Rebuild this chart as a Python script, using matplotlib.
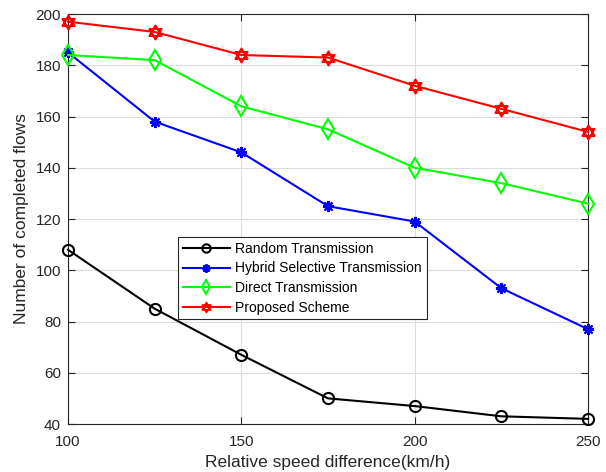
import matplotlib
matplotlib.use("Agg")
import matplotlib.pyplot as plt
from matplotlib.lines import Line2D
from matplotlib.path import Path
import numpy as np

plt.rcParams['font.family'] = ['Liberation Sans', 'DejaVu Sans']

speed = [100, 125, 150, 175, 200, 225, 250]
random_tx = [108, 85, 67, 50, 47, 43, 42]
hybrid_tx = [185, 158, 146, 125, 119, 93, 77]
direct_tx = [184, 182, 164, 155, 140, 134, 126]
proposed = [197, 193, 184, 183, 172, 163, 154]

labels = ["Random Transmission", "Hybrid Selective Transmission",
          "Direct Transmission", "Proposed Scheme"]
xticks = [100, 150, 200, 250]
yticks = [40, 60, 80, 100, 120, 140, 160, 180, 200]

# hexagram marker (two overlapping triangles)
ang_up = np.deg2rad([90, 210, 330])
ang_dn = np.deg2rad([270, 30, 150])
verts = []
codes = []
for angs in (ang_up, ang_dn):
    pts = [(np.cos(a), np.sin(a)) for a in angs]
    verts += pts + [pts[0]]
    codes += [Path.MOVETO, Path.LINETO, Path.LINETO, Path.CLOSEPOLY]
hexagram = Path(verts, codes)

fig = plt.figure(figsize=(6.06, 4.72), dpi=100)
ax = fig.add_axes([68/606, 1-424/472, 520/606, 410/472])

ax.plot(speed, random_tx, color='black', lw=1.5, marker='o', ms=8, mfc='none', mew=1.5, clip_on=False, zorder=3)
ax.plot(speed, hybrid_tx, color='blue', lw=1.5, marker=(8, 2, 0), ms=8, mew=1.5, clip_on=False, zorder=3)
ax.plot(speed, direct_tx, color='#00ff00', lw=1.5, marker='d', ms=10, mfc='none', mew=1.5, clip_on=False, zorder=3)
ax.plot(speed, proposed, color='red', lw=1.5, marker=hexagram, ms=10, mfc='none', mew=1.5, clip_on=False, zorder=3)

ax.set_xlim(100, 250)
ax.set_ylim(40, 200)
ax.set_xticks(xticks)
ax.set_yticks(yticks)
ax.grid(True, color='#dcdcdc', lw=0.8)
ax.set_axisbelow(True)
ax.tick_params(direction='in', length=5, labelsize=11, colors='#262626', top=True, right=True)
ax.tick_params(axis='x', pad=8)
ax.tick_params(axis='y', pad=5)
for s in ax.spines.values():
    s.set_color('#262626')
    s.set_linewidth(0.8)

ax.set_xlabel("Relative speed difference(km/h)", fontsize=12.5, color='#262626', labelpad=4)
ax.set_ylabel("Number of completed flows", fontsize=12.5, color='#262626', labelpad=5)

lh1 = Line2D([], [], color='black', lw=1.5, marker='o', ms=6, mfc='none', mew=1.5)
lh2 = Line2D([], [], color='blue', lw=1.5, marker=(8, 2, 0), ms=6, mew=1.5)
lh3 = Line2D([], [], color='#00ff00', lw=1.5, marker='d', ms=7, mfc='none', mew=1.5)
lh4 = Line2D([], [], color='red', lw=1.5, marker=hexagram, ms=7, mfc='none', mew=1.3)

leg = ax.legend([lh1, lh2, lh3, lh4], labels,
                loc='upper left', bbox_to_anchor=(0.211, 0.456), fontsize=10,
                frameon=True, fancybox=False, edgecolor='#262626', framealpha=1,
                borderpad=0.35, labelspacing=0.4, handlelength=3.4, handletextpad=0.4,
                borderaxespad=0)
leg.get_frame().set_linewidth(0.8)

fig.savefig("out.png", dpi=100)
